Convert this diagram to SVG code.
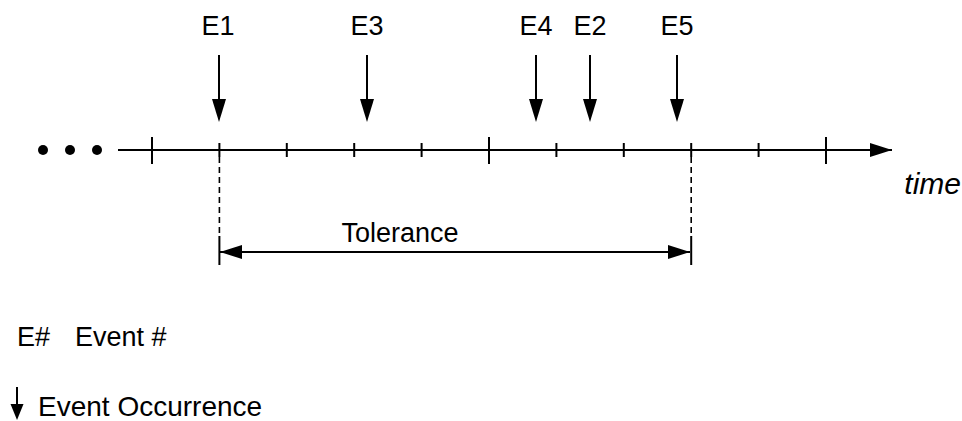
<svg xmlns="http://www.w3.org/2000/svg" width="962" height="421" viewBox="0 0 962 421">
<style>
  .ln { stroke:#000; stroke-width:2; fill:none; }
  .dash { stroke:#000; stroke-width:1.6; fill:none; stroke-dasharray:6 4; }
  .lbl { font-family:"Liberation Sans", Arial, sans-serif; font-size:27px; fill:#000; text-anchor:middle; }
  .txt { font-family:"Liberation Sans", Arial, sans-serif; fill:#000; }
  .head { fill:#000; stroke:none; }
</style>
<defs>
  <marker id="ah" markerWidth="22" markerHeight="14" refX="22" refY="7" orient="auto" markerUnits="userSpaceOnUse">
    <path d="M0,0 L22,7 L0,14 Z" fill="#000"/>
  </marker>
  <marker id="ahs" markerWidth="22" markerHeight="14" refX="22" refY="7" orient="auto-start-reverse" markerUnits="userSpaceOnUse">
    <path d="M0,0 L22,7 L0,14 Z" fill="#000"/>
  </marker>
  <path id="evhead" d="M-7,0 L7,0 L0,23 Z"/>
</defs>

<g id="timeline">
  <circle cx="43" cy="150" r="5" fill="#000"/>
  <circle cx="70" cy="150" r="5" fill="#000"/>
  <circle cx="97" cy="150" r="5" fill="#000"/>
  <line class="ln" x1="118" y1="150" x2="892" y2="150" marker-end="url(#ah)"/>
  <g class="ln">
    <line x1="152" y1="137" x2="152" y2="164"/>
    <line x1="489" y1="137" x2="489" y2="164"/>
    <line x1="826" y1="137" x2="826" y2="164"/>
    <line x1="219.4" y1="143" x2="219.4" y2="157"/>
    <line x1="286.8" y1="143" x2="286.8" y2="157"/>
    <line x1="354.2" y1="143" x2="354.2" y2="157"/>
    <line x1="421.6" y1="143" x2="421.6" y2="157"/>
    <line x1="556.4" y1="143" x2="556.4" y2="157"/>
    <line x1="623.8" y1="143" x2="623.8" y2="157"/>
    <line x1="691.2" y1="143" x2="691.2" y2="157"/>
    <line x1="758.6" y1="143" x2="758.6" y2="157"/>
  </g>
  <text class="txt" x="961" y="194" font-size="30" font-style="italic" text-anchor="end">time</text>
</g>

<g id="E1"><text class="lbl" x="218" y="35">E1</text><line class="ln" x1="219" y1="55" x2="219" y2="102"/><use class="head" href="#evhead" x="219" y="99"/></g>
<g id="E3"><text class="lbl" x="367" y="35">E3</text><line class="ln" x1="367" y1="55" x2="367" y2="102"/><use class="head" href="#evhead" x="367" y="99"/></g>
<g id="E4"><text class="lbl" x="536" y="35">E4</text><line class="ln" x1="536" y1="55" x2="536" y2="102"/><use class="head" href="#evhead" x="536" y="99"/></g>
<g id="E2"><text class="lbl" x="590" y="35">E2</text><line class="ln" x1="590" y1="55" x2="590" y2="102"/><use class="head" href="#evhead" x="590" y="99"/></g>
<g id="E5"><text class="lbl" x="677" y="35">E5</text><line class="ln" x1="677" y1="55" x2="677" y2="102"/><use class="head" href="#evhead" x="677" y="99"/></g>

<g id="tolerance">
  <line class="dash" x1="219.4" y1="157" x2="219.4" y2="236"/>
  <line class="dash" x1="691.2" y1="157" x2="691.2" y2="236"/>
  <line class="ln" stroke-width="1.6" x1="219.4" y1="236" x2="219.4" y2="265"/>
  <line class="ln" stroke-width="1.6" x1="691.2" y1="236" x2="691.2" y2="265"/>
  <line class="ln" x1="220" y1="252" x2="690" y2="252" marker-start="url(#ahs)" marker-end="url(#ah)"/>
  <text class="txt" x="400" y="242" font-size="27" text-anchor="middle">Tolerance</text>
</g>

<g id="legend">
  <text class="txt" x="17" y="346" font-size="27">E#</text>
  <text class="txt" x="75" y="346" font-size="27">Event #</text>
  <line class="ln" x1="17" y1="387" x2="17" y2="406"/>
  <path class="head" d="M10.5,404 L23.5,404 L17,420 Z"/>
  <text class="txt" x="38" y="416" font-size="28">Event Occurrence</text>
</g>
</svg>
